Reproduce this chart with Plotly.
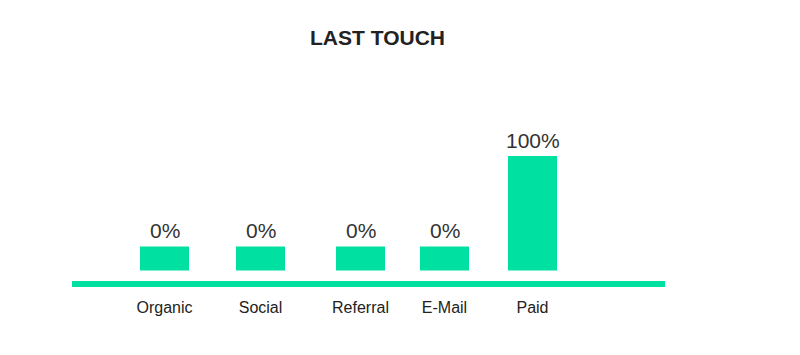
import plotly.graph_objects as go

categories = ["Organic", "Social", "Referral", "E-Mail", "Paid"]
values = [0, 0, 0, 0, 100]
tick_labels = ["Organic", "Social", "Referral", "E-Mail", "Paid"]

# layout-only: horizontal centres of the bars (plot units) and minimal visible stub
x_centres = [92.5, 188.5, 288.5, 372.5, 460.5]
MIN_STUB = 21
display_heights = [max(v, MIN_STUB) for v in values]
labels = [f"{v}%" for v in values]

GREEN = "#00E0A1"
FONT = "Liberation Sans, Arial, sans-serif"

fig = go.Figure()
fig.add_trace(go.Bar(
    x=x_centres,
    y=display_heights,
    width=49,
    marker=dict(color=GREEN, line=dict(width=0)),
    hoverinfo="skip",
))

for xc, h, lab in zip(x_centres, display_heights, labels):
    fig.add_annotation(x=xc, y=h, text=lab, showarrow=False, xanchor="center",
                       yanchor="bottom", yshift=2,
                       font=dict(size=21, color="#333333", family=FONT))

fig.add_shape(type="line", xref="paper", yref="y", x0=0, x1=1, y0=-11.8, y1=-11.8,
              line=dict(color=GREEN, width=6))

fig.update_layout(
    width=800, height=355,
    margin=dict(l=72, r=135, t=60, b=63),
    paper_bgcolor="white", plot_bgcolor="white",
    showlegend=False,
    title=dict(text="<b>LAST TOUCH</b>", x=377.5/800, xanchor="center",
               y=1 - 38/355, yanchor="middle", font=dict(size=21, color="#222222", family=FONT)),
    xaxis=dict(range=[0, 593], tickmode="array", tickvals=x_centres, ticktext=tick_labels,
               showgrid=False, zeroline=False, showline=False, ticks="",
               ticklabelstandoff=4,
               tickfont=dict(size=16, color="#222222", family=FONT)),
    yaxis=dict(range=[-18.78, 183.8], visible=False, showgrid=False, zeroline=False),
)

fig.write_html("out.html")
